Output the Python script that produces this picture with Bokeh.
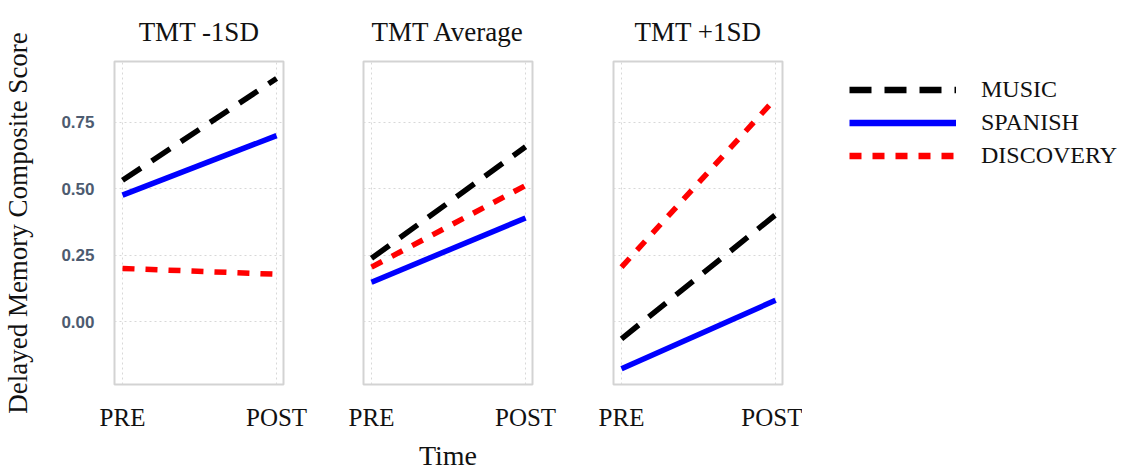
from bokeh.plotting import figure
from bokeh.layouts import row
from bokeh.models import Range1d, FixedTicker, NumeralTickFormatter, Legend, LegendItem, Title
from bokeh.embed import file_html
from bokeh.resources import INLINE

# ---- data ----
time_x = [0, 1]
time_labels = ["PRE", "POST"]
panel_titles = ["TMT -1SD", "TMT Average", "TMT +1SD"]
groups = ["MUSIC", "SPANISH", "DISCOVERY"]

music = [[0.532, 0.915], [0.238, 0.658], [-0.065, 0.402]]
spanish = [[0.476, 0.700], [0.148, 0.390], [-0.178, 0.080]]
discovery = [[0.200, 0.178], [0.205, 0.512], [0.205, 0.840]]

y_ticks = [0.0, 0.25, 0.5, 0.75]

# ---- styles ----
SERIF = "Liberation Serif"
styles = {
    "MUSIC": dict(color="#000000", dash="22 13"),
    "SPANISH": dict(color="#0000ff", dash="solid"),
    "DISCOVERY": dict(color="#ff0000", dash="12 11"),
}
LW = 5.5
series = {"MUSIC": music, "SPANISH": spanish, "DISCOVERY": discovery}

TOP = 53
FRAME_W = 169
FRAME_H = 323
BOTTOM = 79

borders = [(107, 40), (40, 40), (41, 20)]

figs = []
for i, title in enumerate(panel_titles):
    bl, br = borders[i]
    p = figure(frame_width=FRAME_W, frame_height=FRAME_H, output_backend="svg",
               toolbar_location=None, x_range=Range1d(-0.052, 1.045),
               y_range=Range1d(-0.237, 0.979))
    p.min_border_left = bl
    p.min_border_right = br
    p.min_border_top = TOP
    p.min_border_bottom = BOTTOM
    p.title = Title(text=title, align="center", text_font=SERIF,
                    text_font_size="27px", text_font_style="normal",
                    text_color="#111111", standoff=29)
    p.outline_line_color = "#d3d3d3"
    p.outline_line_width = 2
    p.background_fill_color = "white"
    p.border_fill_color = "white"

    for g in ["DISCOVERY", "SPANISH", "MUSIC"]:
        st = styles[g]
        p.line(time_x, series[g][i], line_color=st["color"], line_width=LW,
               line_dash=st["dash"], line_cap="butt")

    p.xaxis.ticker = FixedTicker(ticks=time_x)
    p.xaxis.major_label_overrides = {t: l for t, l in zip(time_x, time_labels)}
    p.xaxis.major_label_text_font = SERIF
    p.xaxis.major_label_text_font_size = "25px"
    p.xaxis.major_label_text_line_height = 1.0
    p.xaxis.major_label_text_color = "#111111"
    p.xaxis.major_label_standoff = 19
    p.xaxis.axis_line_color = None
    p.xaxis.major_tick_line_color = None
    p.xaxis.minor_tick_line_color = None
    p.xaxis.major_tick_out = 0
    p.xaxis.major_tick_in = 0
    p.xaxis.minor_tick_out = 0

    p.xgrid.ticker = FixedTicker(ticks=time_x)
    p.ygrid.ticker = FixedTicker(ticks=y_ticks)
    for gr in (p.xgrid, p.ygrid):
        gr.grid_line_color = "#d8d8d8"
        gr.grid_line_width = 1
        gr.grid_line_dash = "2 3"

    p.yaxis.ticker = FixedTicker(ticks=y_ticks)
    if i == 0:
        p.yaxis.formatter = NumeralTickFormatter(format="0.00")
        p.yaxis.major_label_text_font = "Liberation Sans"
        p.yaxis.major_label_text_font_style = "bold"
        p.yaxis.major_label_text_font_size = "17px"
        p.yaxis.major_label_text_color = "#4d5b70"
        p.yaxis.major_label_standoff = 20
        p.yaxis.axis_line_color = None
        p.yaxis.major_tick_line_color = None
        p.yaxis.minor_tick_line_color = None
        p.yaxis.major_tick_out = 0
        p.yaxis.major_tick_in = 0
        p.yaxis.minor_tick_out = 0
        p.yaxis.axis_label = "Delayed Memory Composite Score"
        p.yaxis.axis_label_text_font = SERIF
        p.yaxis.axis_label_text_font_size = "27px"
        p.yaxis.axis_label_text_font_style = "normal"
        p.yaxis.axis_label_text_color = "#111111"
        p.yaxis.axis_label_standoff = 25
    else:
        p.yaxis.visible = False
    if i == 1:
        p.xaxis.axis_label = "Time"
        p.xaxis.axis_label_text_font = SERIF
        p.xaxis.axis_label_text_font_size = "28px"
        p.xaxis.axis_label_text_font_style = "normal"
        p.xaxis.axis_label_text_color = "#111111"
        p.xaxis.axis_label_standoff = 6
    figs.append(p)

# ---- legend panel ----
lg = figure(frame_width=283, frame_height=FRAME_H, output_backend="svg",
            toolbar_location=None, x_range=Range1d(0, 1), y_range=Range1d(0, 1))
lg.min_border_left = 35
lg.min_border_right = 0
lg.min_border_top = TOP
lg.min_border_bottom = BOTTOM
lg.outline_line_color = None
lg.axis.visible = False
lg.grid.visible = False
items = []
nan = float("nan")
for g in groups:
    st = styles[g]
    r = lg.line([nan], [nan], line_color=st["color"], line_width=LW + 1,
                line_dash=st["dash"], line_cap="butt")
    items.append(LegendItem(label=g, renderers=[r]))
legend = Legend(items=items, location="top_left", glyph_width=107, glyph_height=33,
                label_height=33, label_standoff=25, spacing=0, padding=0, margin=12,
                border_line_color=None, background_fill_alpha=0,
                label_text_font=SERIF, label_text_font_size="24px",
                label_text_color="#111111")
lg.add_layout(legend)

layout = row(*figs, lg)
open("out.html", "w").write(file_html(layout, INLINE))
